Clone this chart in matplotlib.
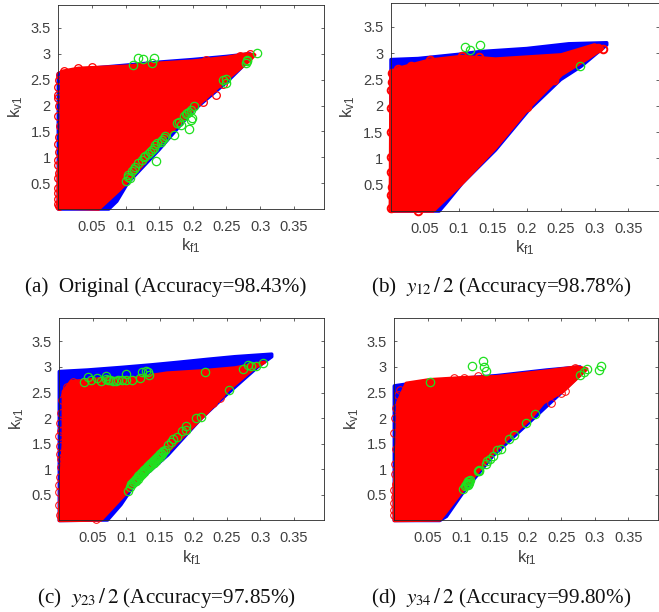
import matplotlib
matplotlib.use("Agg")
import matplotlib.pyplot as plt

plt.rcParams['font.family'] = ['Liberation Sans', 'DejaVu Sans']
plt.rcParams['mathtext.fontset'] = 'custom'
plt.rcParams['mathtext.rm'] = 'Liberation Sans'

W, H = 659, 612

x_ticks = [0.05, 0.1, 0.15, 0.2, 0.25, 0.3, 0.35]
x_tick_labels = ['0.05', '0.1', '0.15', '0.2', '0.25', '0.3', '0.35']
y_ticks = [0.5, 1, 1.5, 2, 2.5, 3, 3.5]
y_tick_labels = ['0.5', '1', '1.5', '2', '2.5', '3', '3.5']

# outlines of the blue and red clouds
a_blue = [(0.0, 0.0), (0.075, 0.0), (0.087, 0.15), (0.103, 0.5), (0.15, 1.15), (0.2, 1.9), (0.25, 2.45),
          (0.285, 2.9), (0.285, 3.0), (0.25, 2.95), (0.2, 2.89), (0.15, 2.84), (0.1, 2.78), (0.03, 2.7), (0.0, 2.62)]
a_red = [(0.0, 0.02), (0.06, 0.0), (0.09, 0.36), (0.103, 0.53), (0.14, 1.07), (0.16, 1.4), (0.18, 1.65),
         (0.2, 1.92), (0.25, 2.5), (0.285, 2.88), (0.292, 2.98), (0.28, 3.0), (0.25, 2.93), (0.2, 2.86),
         (0.15, 2.82), (0.1, 2.76), (0.03, 2.72), (0.005, 2.66), (0.004, 1.5), (0.0, 0.6)]
a_edge = [(0.001, 0.05), (0.0, 0.2), (0.0, 0.4), (0.001, 0.7), (0.0, 0.95), (0.001, 1.1), (0.002, 1.6),
          (0.0, 2.2), (0.0, 2.15), (0.001, 2.5), (0.003, 2.6), (0.008, 2.67), (0.03, 2.72), (0.05, 2.75),
          (0.22, 2.88), (0.235, 2.2), (0.245, 2.42), (0.27, 2.96), (0.285, 3.0), (0.215, 2.07), (0.0, 0.1),
          (0.0, 0.3), (0.0, 0.6), (0.0, 0.85), (0.0, 1.25), (0.001, 1.4), (0.0, 1.8), (0.001, 2.0), (0.0, 2.35)]
a_green = [(0.111, 2.79), (0.118, 2.92), (0.126, 2.90), (0.142, 2.92), (0.140, 2.82), (0.295, 3.02), (0.279, 2.82),
           (0.281, 2.89), (0.280, 2.86), (0.245, 2.50), (0.249, 2.44), (0.249, 2.51), (0.201, 1.99), (0.197, 1.92),
           (0.192, 1.85), (0.187, 1.79), (0.199, 1.75), (0.197, 1.72), (0.195, 1.54), (0.177, 1.66), (0.179, 1.69),
           (0.182, 1.62), (0.172, 1.44), (0.159, 1.41), (0.157, 1.38), (0.154, 1.34), (0.144, 1.23), (0.142, 1.17),
           (0.139, 1.14), (0.145, 0.92), (0.134, 1.07), (0.129, 1.02), (0.124, 0.95), (0.119, 0.88), (0.114, 0.81),
           (0.109, 0.73), (0.104, 0.65), (0.101, 0.55), (0.104, 0.62), (0.107, 0.6), (0.112, 0.78), (0.127, 1.0),
           (0.137, 1.1), (0.147, 1.27), (0.152, 1.3), (0.19, 1.83), (0.194, 1.88)]

b_blue = [(0.0, 0.0), (0.071, 0.0), (0.081, 0.15), (0.105, 0.53), (0.154, 1.16), (0.203, 1.92), (0.25, 2.5),
          (0.28, 2.75), (0.318, 3.16), (0.318, 3.2), (0.262, 3.18), (0.2, 3.09), (0.13, 3.03), (0.1, 2.98),
          (0.04, 2.9), (0.0, 2.88)]
b_red = [(-0.001, 0.0), (0.062, 0.0), (0.105, 0.53), (0.154, 1.2), (0.203, 1.96), (0.222, 2.21), (0.251, 2.59),
         (0.29, 2.9), (0.312, 3.09), (0.30, 3.16), (0.251, 2.97), (0.203, 2.93), (0.154, 2.89), (0.105, 2.94),
         (0.057, 2.87), (0.013, 2.72), (0.0, 2.65)]
b_edge = [(0.0, 0.05), (0.0, 0.3), (0.001, 0.45), (0.0, 0.75), (0.0, 1.02), (0.0, 1.5), (0.0, 1.95), (0.0, 2.3),
          (0.001, 2.45), (0.001, 2.63), (0.01, 2.7), (0.03, 2.76), (0.057, 2.87), (0.105, 2.95), (0.13, 2.92),
          (0.24, 2.5), (0.312, 3.09), (0.305, 3.1), (0.04, 0.01), (0.2, 1.98)]
b_green = [(0.109, 3.11), (0.117, 3.06), (0.131, 3.15), (0.278, 2.76)]

c_blue = [(0.0, 0.0), (0.072, 0.01), (0.092, 0.31), (0.112, 0.7), (0.162, 1.28), (0.212, 2.0), (0.252, 2.49),
          (0.296, 3.0), (0.317, 3.2), (0.317, 3.25), (0.262, 3.2), (0.222, 3.15), (0.177, 3.09), (0.137, 3.04),
          (0.092, 2.99), (0.042, 2.94), (0.0, 2.91)]
c_red = [(0.0, 0.0), (0.062, 0.01), (0.097, 0.5), (0.127, 0.96), (0.162, 1.35), (0.192, 1.74), (0.222, 2.13),
         (0.252, 2.55), (0.291, 2.98), (0.306, 3.09), (0.262, 2.98), (0.21, 2.92), (0.161, 2.88), (0.111, 2.78),
         (0.062, 2.77), (0.017, 2.71), (0.006, 2.52), (0.006, 1.5), (0.002, 0.7)]
c_edge = [(0.001, 0.1), (0.0, 0.3), (0.0, 0.55), (0.001, 0.85), (0.002, 1.05), (0.003, 1.2), (0.006, 1.25),
          (0.001, 1.45), (0.0, 1.65), (0.001, 1.9), (0.002, 2.1), (0.004, 2.35), (0.008, 2.45), (0.012, 2.6),
          (0.02, 2.7), (0.23, 2.3), (0.24, 2.4), (0.055, 0.02), (0.0, 0.7), (0.001, 1.3), (0.002, 1.75)]
c_green = [(0.037, 2.70), (0.043, 2.81), (0.048, 2.75), (0.057, 2.78), (0.062, 2.73), (0.07, 2.83), (0.072, 2.75),
           (0.08, 2.73), (0.087, 2.75), (0.093, 2.74), (0.099, 2.86), (0.1, 2.75), (0.109, 2.75), (0.121, 2.78),
           (0.124, 2.91), (0.129, 2.92), (0.134, 2.85), (0.133, 2.91), (0.218, 2.90), (0.274, 2.96), (0.281, 3.03),
           (0.286, 3.01), (0.294, 3.02), (0.304, 3.07), (0.253, 2.55), (0.204, 2.0), (0.211, 2.03), (0.189, 1.84),
           (0.189, 1.77), (0.183, 1.75), (0.176, 1.64), (0.17, 1.6), (0.167, 1.53), (0.162, 1.48), (0.155, 1.35),
           (0.152, 1.31), (0.149, 1.27), (0.146, 1.24), (0.143, 1.2), (0.14, 1.16), (0.137, 1.12), (0.134, 1.08),
           (0.131, 1.04), (0.128, 1.0), (0.125, 0.96), (0.122, 0.92), (0.119, 0.88), (0.116, 0.84), (0.113, 0.8),
           (0.11, 0.76), (0.107, 0.72), (0.105, 0.66), (0.102, 0.58), (0.15, 1.25), (0.141, 1.14), (0.133, 1.03),
           (0.123, 0.9), (0.114, 0.78), (0.153, 1.3), (0.15, 1.3), (0.147, 1.22), (0.145, 1.2), (0.142, 1.13),
           (0.139, 1.1), (0.136, 1.07), (0.133, 1.06), (0.13, 1.01), (0.127, 0.95), (0.124, 0.93), (0.12, 0.86),
           (0.117, 0.82), (0.114, 0.81), (0.112, 0.76), (0.109, 0.71), (0.148, 1.25), (0.144, 1.17), (0.126, 0.98),
           (0.118, 0.87), (0.135, 1.1), (0.155, 1.33), (0.158, 1.38), (0.069, 2.76), (0.076, 2.75), (0.084, 2.72)]

d_blue = [(0.0, 0.0), (0.068, 0.0), (0.078, 0.08), (0.103, 0.55), (0.148, 1.27), (0.203, 1.93), (0.25, 2.5),
          (0.278, 2.85), (0.278, 3.0), (0.228, 2.94), (0.153, 2.83), (0.053, 2.73), (0.0, 2.63)]
d_red = [(0.0, 0.0), (0.068, 0.01), (0.103, 0.6), (0.148, 1.32), (0.168, 1.58), (0.203, 1.98), (0.223, 2.3),
         (0.253, 2.53), (0.288, 2.96), (0.273, 3.0), (0.228, 2.92), (0.153, 2.81), (0.103, 2.79), (0.053, 2.75),
         (0.018, 2.68), (0.005, 2.3), (0.004, 1.5), (0.0, 0.6)]
d_edge = [(0.0, 0.1), (0.0, 0.2), (0.001, 0.45), (0.002, 0.72), (0.001, 0.9), (0.0, 1.7), (0.001, 2.0),
          (0.002, 2.2), (0.005, 2.45), (0.008, 2.55), (0.09, 2.78), (0.105, 2.79), (0.125, 2.82), (0.235, 2.3),
          (0.25, 2.5), (0.255, 2.53), (0.27, 2.97), (0.0, 0.35), (0.0, 0.6), (0.001, 1.1), (0.002, 1.4)]
d_green = [(0.053, 2.71), (0.117, 3.02), (0.132, 3.12), (0.134, 3.0), (0.137, 2.93), (0.309, 3.02), (0.307, 2.94),
           (0.278, 2.85), (0.284, 2.91), (0.288, 2.95), (0.211, 2.09), (0.197, 1.91), (0.179, 1.68), (0.172, 1.6),
           (0.159, 1.39), (0.153, 1.37), (0.147, 1.26), (0.143, 1.2), (0.139, 1.16), (0.137, 1.11), (0.127, 0.98),
           (0.125, 0.96), (0.113, 0.79), (0.109, 0.73), (0.106, 0.67), (0.103, 0.62), (0.11, 0.77), (0.112, 0.74),
           (0.111, 0.72), (0.108, 0.69), (0.112, 0.78), (0.11, 0.7), (0.126, 0.97)]

captions = ['(a)  Original (Accuracy=98.43%)',
            r'(b)  $y_{12}\,/\,2$ (Accuracy=98.78%)',
            r'(c)  $y_{23}\,/\,2$ (Accuracy=97.85%)',
            r'(d)  $y_{34}\,/\,2$ (Accuracy=99.80%)']


def draw_panel(box, blue, red, edge, green, caption, caption_xy, edge_width):
    left, top, right, bottom = box
    ax = fig.add_axes([left / W, 1 - bottom / H, (right - left) / W, (bottom - top) / H])

    ax.fill(*zip(*blue), color='#0000ff', lw=2.5, joinstyle='round', clip_on=False, zorder=2)
    ax.fill(*zip(*red), color='#ff0000', lw=2.5, joinstyle='round', clip_on=False, zorder=3)
    ax.plot(*zip(*edge), ls='none', marker='o', ms=5.5, mfc='none', mec='#ff0000', mew=edge_width,
            clip_on=False, zorder=4)
    ax.plot(*zip(*green), ls='none', marker='o', ms=6, mfc='none', mec='#1fe01f', mew=0.9,
            clip_on=False, zorder=5)

    ax.set_xlim(0, 0.395)
    ax.set_ylim(0.01, 3.95)
    ax.set_xticks(x_ticks, x_tick_labels)
    ax.set_yticks(y_ticks, y_tick_labels)
    ax.tick_params(direction='in', top=True, right=True, length=2.5, width=0.5, color='#262626',
                   labelcolor='#404040', labelsize=10.5, pad=5.5)
    ax.tick_params(axis='x', pad=8)
    for s in ax.spines.values():
        s.set_linewidth(0.6)
        s.set_color('#262626')
        s.set_zorder(6)

    ax.set_xlabel(r'$\mathrm{k_{f1}}$', fontsize=12, color='#404040', labelpad=2)
    ax.set_ylabel(r'$\mathrm{k_{v1}}$', fontsize=12, color='#404040', labelpad=4)

    fig.text(caption_xy[0] / W, 1 - caption_xy[1] / H, caption, ha='center', va='baseline',
             family=['Liberation Serif', 'DejaVu Serif'], fontsize=15.2, color='#111111', math_fontfamily='stix')


fig = plt.figure(figsize=(W / 100, H / 100), dpi=100)

draw_panel((58.3, 4.7, 324, 208.5), a_blue, a_red, a_edge, a_green, captions[0], (166, 292), 0.9)
draw_panel((391, 3.3, 659, 210.5), b_blue, b_red, b_edge, b_green, captions[1], (501, 292), 1.4)
draw_panel((59.3, 318.3, 324, 520), c_blue, c_red, c_edge, c_green, captions[2], (166, 603), 0.7)
draw_panel((394.3, 318.3, 658.3, 520), d_blue, d_red, d_edge, d_green, captions[3], (501, 603), 0.7)

fig.savefig('out.png', dpi=100)
